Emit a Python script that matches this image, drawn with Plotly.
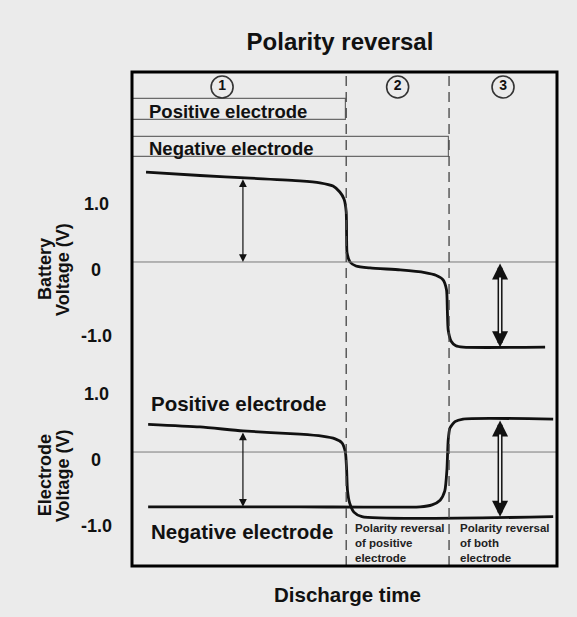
import numpy as np
import plotly.graph_objects as go

# ---------------- data ----------------
# discharge time in arbitrary units (0..100)
t_pos_capacity = 50.4   # end of positive electrode capacity
t_neg_capacity = 74.6   # end of negative electrode capacity

batt_time = [3.3, 16.0, 27.8, 39.5, 44.2, 47.3, 48.9, 49.9, 50.4, 50.5, 50.6, 51.3, 52.7, 56.0,
             63.1, 68.9, 71.5, 73.2, 74.0, 74.2, 74.4, 75.1, 76.2, 77.9, 97.2]
batt_volt = [1.36, 1.31, 1.27, 1.23, 1.20, 1.15, 1.06, 0.95, 0.76, 0.33, 0.14, 0.0, -0.06, -0.09,
             -0.12, -0.16, -0.20, -0.27, -0.42, -0.73, -1.03, -1.20, -1.27, -1.29, -1.29]

pos_time = [3.8, 16.0, 26.1, 39.5, 44.7, 47.8, 49.4, 50.2, 50.5, 50.7, 51.2, 52.2, 54.1, 99.1]
pos_volt = [0.42, 0.38, 0.32, 0.27, 0.24, 0.20, 0.14, 0.0, -0.27, -0.58, -0.77, -0.91, -0.98, -0.98]

neg_time = [3.8, 39.5, 67.8, 70.6, 72.5, 73.6, 74.1, 74.4, 74.8, 76.0, 77.9, 99.1]
neg_volt = [-0.83, -0.83, -0.83, -0.80, -0.73, -0.59, -0.27, 0.18, 0.36, 0.46, 0.50, 0.50]

capacity_names = ["Positive electrode", "Negative electrode"]
capacity_ends = [t_pos_capacity, t_neg_capacity]
capacity_rows = [1, 0]

stage_labels = ["1", "2", "3"]
stage_x = [21.2, 62.5, 87.3]

tick_vals = [1.0, 0.0, -1.0]
tick_text = ["1.0", "0", "-1.0"]

arrow_t1 = 26.1
arrow_t3 = 86.6

# ---------------- style ----------------
BG = "#ebebeb"
FONT = "Liberation Sans, Arial, Helvetica, sans-serif"
INK = "#111111"

fig = go.Figure()

# capacity bars (top)
fig.add_trace(go.Bar(
    x=capacity_ends, y=capacity_rows, base=0, orientation="h", width=0.55,
    marker=dict(color=BG, line=dict(color="#6a6a6a", width=1.2)),
    xaxis="x", yaxis="y3", showlegend=False, hoverinfo="skip"))

# stage circles
fig.add_trace(go.Scatter(
    x=stage_x, y=[1.6] * 3, mode="markers+text", text=["<b>%s</b>" % s for s in stage_labels],
    textposition="middle center", textfont=dict(family=FONT, size=14, color=INK),
    marker=dict(symbol="circle-open", size=22, line=dict(color="#333", width=1.6), color="#333"),
    xaxis="x", yaxis="y3", showlegend=False, hoverinfo="skip"))

line_style = dict(color=INK, width=2.8, shape="spline", smoothing=0.6)
fig.add_trace(go.Scatter(x=batt_time, y=batt_volt, mode="lines", line=line_style,
                         xaxis="x", yaxis="y2", showlegend=False))
fig.add_trace(go.Scatter(x=pos_time, y=pos_volt, mode="lines", line=line_style,
                         xaxis="x", yaxis="y", showlegend=False))
fig.add_trace(go.Scatter(x=neg_time, y=neg_volt, mode="lines", line=line_style,
                         xaxis="x", yaxis="y", showlegend=False))

shapes = []
# zero lines
for yr in ["y2", "y"]:
    shapes.append(dict(type="line", xref="paper", x0=0, x1=1, yref=yr, y0=0, y1=0,
                       line=dict(color="#7a7a7a", width=1)))
# stage boundaries
for t in capacity_ends:
    shapes.append(dict(type="line", xref="x", x0=t, x1=t, yref="paper", y0=0, y1=1,
                       line=dict(color="#444", width=1.3, dash="10px,6px")))
# frame
shapes.append(dict(type="rect", xref="paper", yref="paper", x0=0, x1=1, y0=0, y1=1,
                   line=dict(color="#000", width=3)))

ann = []
def bold(s):
    return "<b>%s</b>" % s

# capacity bar labels
for name, row in zip(capacity_names, capacity_rows):
    ann.append(dict(x=3.5, y=row, xref="x", yref="y3", text=bold(name), showarrow=False,
                    xanchor="left", yanchor="middle", yshift=-2,
                    font=dict(family=FONT, size=18.5, color=INK)))

# tick labels
for yr in ["y2", "y"]:
    for v, s in zip(tick_vals, tick_text):
        ann.append(dict(x=-0.0847, xref="paper", y=v, yref=yr, text=bold(s), showarrow=False,
                        xanchor="center", yanchor="middle", yshift=-8,
                        font=dict(family=FONT, size=18, color=INK)))

# axis titles
for yr, y, first in [("y2", -0.106, "Battery"), ("y", -0.35, "Electrode")]:
    ann.append(dict(x=-0.2047, xref="paper", y=y, yref=yr, text=bold(first), showarrow=False,
                    textangle=-90, xanchor="center", yanchor="middle",
                    font=dict(family=FONT, size=18, color=INK)))
    ann.append(dict(x=-0.1624, xref="paper", y=y, yref=yr, text=bold("Voltage (V)"), showarrow=False,
                    textangle=-90, xanchor="center", yanchor="middle",
                    font=dict(family=FONT, size=18, color=INK)))

# electrode labels in lower panel
ann.append(dict(x=4.0, y=0.74, xref="x", yref="y", text=bold("Positive electrode"), showarrow=False,
                xanchor="left", yanchor="middle", font=dict(family=FONT, size=20.5, color=INK)))
ann.append(dict(x=4.0, y=-1.21, xref="x", yref="y", text=bold("Negative electrode"), showarrow=False,
                xanchor="left", yanchor="middle", font=dict(family=FONT, size=20.5, color=INK)))

# stage descriptions
ann.append(dict(x=t_pos_capacity + 1.5, y=-1.38, xref="x", yref="y",
                text=bold("Polarity reversal<br>of positive<br>electrode"), showarrow=False,
                xanchor="left", yanchor="middle", align="left",
                font=dict(family=FONT, size=11.5, color="#222")))
ann.append(dict(x=t_neg_capacity + 2.0, y=-1.38, xref="x", yref="y",
                text=bold("Polarity reversal<br>of both<br>electrode"), showarrow=False,
                xanchor="left", yanchor="middle", align="left",
                font=dict(family=FONT, size=11.5, color="#222")))

# x title
ann.append(dict(x=0.507, xref="paper", y=-0.0587, yref="paper", text=bold("Discharge time"),
                showarrow=False, xanchor="center", yanchor="middle",
                font=dict(family=FONT, size=20.5, color=INK)))

# arrows
b1 = float(np.interp(arrow_t1, batt_time, batt_volt))
b3 = float(np.interp(arrow_t3, batt_time, batt_volt))
p1 = float(np.interp(arrow_t1, pos_time, pos_volt))
n1 = float(np.interp(arrow_t1, neg_time, neg_volt))
p3 = float(np.interp(arrow_t3, pos_time, pos_volt))
n3 = float(np.interp(arrow_t3, neg_time, neg_volt))

def thin_arrow(t, ya, yb, yr):
    return dict(x=t, y=yb, ax=t, ay=ya, xref="x", yref=yr, axref="x", ayref=yr, text="",
                showarrow=True, arrowside="end+start", arrowhead=2, arrowsize=1.3,
                arrowwidth=1.2, arrowcolor=INK, standoff=0, startstandoff=0)

ann.append(thin_arrow(arrow_t1, b1, 0.0, "y2"))
ann.append(thin_arrow(arrow_t1, p1, n1, "y"))

def double_arrow(t, ya, yb, yr):
    outer = dict(x=t, y=yb, ax=t, ay=ya, xref="x", yref=yr, axref="x", ayref=yr, text="",
                 showarrow=True, arrowside="end+start", arrowhead=2, arrowsize=0.64,
                 arrowwidth=5, arrowcolor=INK, standoff=0, startstandoff=0)
    inner = dict(x=t, y=yb, ax=t, ay=ya, xref="x", yref=yr, axref="x", ayref=yr, text="",
                 showarrow=True, arrowhead=0, arrowwidth=2, arrowcolor=BG,
                 standoff=14, startstandoff=14)
    return [outer, inner]

ann.extend(double_arrow(arrow_t3, 0.0, b3, "y2"))
ann.extend(double_arrow(arrow_t3, n3, p3, "y"))

hidden = dict(showgrid=False, zeroline=False, showticklabels=False, showline=False,
              ticks="", fixedrange=True)

# the page body adds an 8px margin, so the figure is laid out 8px smaller
fig.update_layout(
    width=561, height=601,
    margin=dict(l=124, r=12, t=64, b=43),
    paper_bgcolor=BG, plot_bgcolor=BG,
    title=dict(text=bold("Polarity reversal"), x=0.5918, xanchor="center", y=0.9434, yanchor="middle",
               font=dict(family=FONT, size=24, color=INK)),
    xaxis=dict(range=[0, 100], **hidden),
    yaxis=dict(domain=[0, 0.3866], range=[-1.727, 1.167], **hidden),
    yaxis2=dict(domain=[0.3866, 0.8219], range=[-1.712, 1.545], **hidden),
    yaxis3=dict(domain=[0.8219, 1.0], range=[-0.347, 2.0], **hidden),
    shapes=shapes, annotations=ann, bargap=0,
)

fig.write_html("out.html", post_script="document.body.style.background='%s';" % BG)
